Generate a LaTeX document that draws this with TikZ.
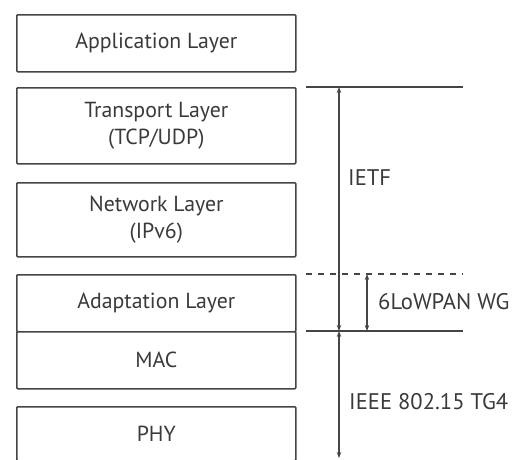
\documentclass[tikz,border=0pt]{standalone}
\usepackage{fontspec}
\setmainfont{PT Sans}
\usetikzlibrary{arrows.meta}
\definecolor{ink}{HTML}{454545}
\definecolor{inktext}{HTML}{3A3A3A}
\tikzset{
  layer/.style={draw=ink, line width=1.6pt, rounded corners=1pt, fill=white,
    minimum width=279pt, inner sep=0pt, text=inktext, font=\fontsize{21.8}{27}\selectfont,
    align=center, anchor=north west},
  rule/.style={draw=ink, line width=1.4pt},
  span/.style={draw=ink, line width=1.1pt, {Stealth[length=6pt,width=4.5pt]}-{Stealth[length=6pt,width=4.5pt]}},
  tag/.style={text=inktext, font=\fontsize{22.6}{26}\selectfont, anchor=west, inner sep=0pt}
}
\begin{document}
\begin{tikzpicture}[x=1pt,y=-1pt]
  \clip (0,0) rectangle (517,459);
  \fill[white] (0,0) rectangle (517,459);
  % protocol stack
  \node[layer, minimum height=57pt] (app)   at (16,14)  {Application Layer};
  \node[layer, minimum height=76pt] (trans) at (16,87)  {Transport Layer\\(TCP/UDP)};
  \node[layer, minimum height=74pt] (net)   at (16,182) {Network Layer\\(IPv6)};
  \node[layer, minimum height=57pt] (adapt) at (16,274) {Adaptation Layer};
  \node[layer, minimum height=57pt] (mac)   at (16,331) {MAC};
  \node[layer, minimum height=54pt] (phy)   at (16,406) {PHY};
  % boundary rules on the right
  \coordinate (t0) at (306,87);  \coordinate (t1) at (463,87);
  \coordinate (d0) at (306,274); \coordinate (d1) at (463,274);
  \coordinate (m0) at (306,331); \coordinate (m1) at (463,331);
  \draw[rule] (t0) -- (t1);
  \draw[rule, dashed, dash pattern=on 6pt off 6pt, line width=1.1pt] (d0) -- (d1);
  \draw[rule] (m0) -- (m1);
  % spans
  \coordinate (ietfTop) at (339,87);
  \coordinate (ietfBot) at (339,331);
  \coordinate (lowTop)  at (367,274);
  \coordinate (lowBot)  at (367,331);
  \coordinate (ieeeBot) at (339,458);
  \draw[span] (ietfBot) -- (ietfTop);
  \draw[span] (lowTop) -- (lowBot);
  \draw[span] (ietfBot) -- (ieeeBot);
  % labels
  \node[tag] (ietf) at (348,178) {IETF};
  \node[tag] (low)  at (378,302) {6LoWPAN WG};
  \node[tag] (ieee) at (349,402) {IEEE 802.15 TG4};
\end{tikzpicture}
\end{document}
